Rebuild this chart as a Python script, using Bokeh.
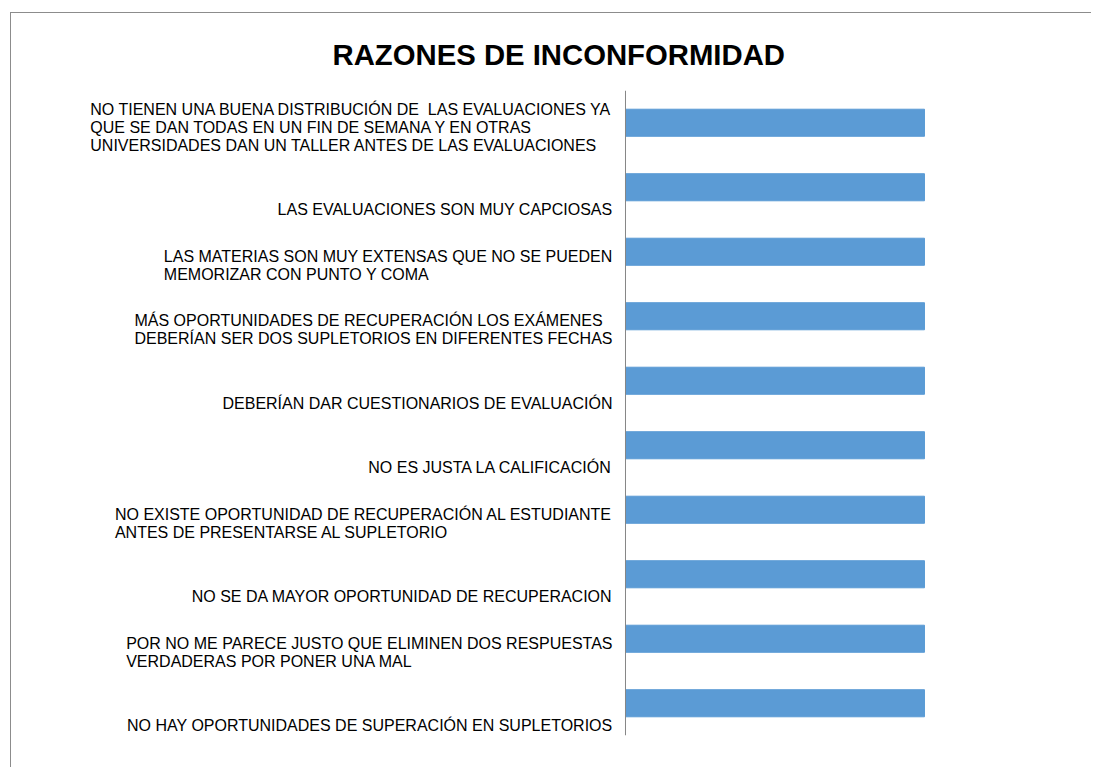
from bokeh.plotting import figure
from bokeh.models import ColumnDataSource, FactorRange, Range1d, Span
from bokeh.core.properties import value
from bokeh.embed import file_html
from bokeh.resources import INLINE

# Data (top to bottom as shown)
reasons = [
    "NO TIENEN UNA BUENA DISTRIBUCIÓN DE\u00a0 LAS EVALUACIONES YA\nQUE SE DAN TODAS EN UN FIN DE SEMANA Y EN OTRAS\nUNIVERSIDADES DAN UN TALLER ANTES DE LAS EVALUACIONES",
    "LAS EVALUACIONES SON MUY CAPCIOSAS",
    "LAS MATERIAS SON MUY EXTENSAS QUE NO SE PUEDEN\nMEMORIZAR CON PUNTO Y COMA",
    "MÁS OPORTUNIDADES DE RECUPERACIÓN LOS EXÁMENES\nDEBERÍAN SER DOS SUPLETORIOS EN DIFERENTES FECHAS",
    "DEBERÍAN DAR CUESTIONARIOS DE EVALUACIÓN",
    "NO ES JUSTA LA CALIFICACIÓN",
    "NO EXISTE OPORTUNIDAD DE RECUPERACIÓN AL ESTUDIANTE\nANTES DE PRESENTARSE AL SUPLETORIO",
    "NO SE DA MAYOR OPORTUNIDAD DE RECUPERACION",
    "POR NO ME PARECE JUSTO QUE ELIMINEN DOS RESPUESTAS\nVERDADERAS POR PONER UNA MAL",
    "NO HAY OPORTUNIDADES DE SUPERACIÓN EN SUPLETORIOS",
]
counts = [1, 1, 1, 1, 1, 1, 1, 1, 1, 1]
title_text = "RAZONES DE INCONFORMIDAD"

FONT = "Liberation Sans"

source = ColumnDataSource(data=dict(reason=reasons, count=counts,
                                    zero=[0] * len(counts)))

p = figure(
    width=1081, height=755,
    y_range=FactorRange(factors=list(reversed(reasons)), range_padding=0),
    x_range=Range1d(-2.0535, 1.5619),
    output_backend="svg", toolbar_location=None,
    min_border_left=0, min_border_right=0,
    min_border_top=77, min_border_bottom=33,
)
p.styles = {"margin-left": "10px", "margin-top": "12px",
            "border-left": "1px solid #8c8c8c", "border-top": "1px solid #8c8c8c"}

p.hbar(y="reason", right="count", left=0, height=0.42, source=source,
       fill_color="#5B9BD5", line_color="#5B9BD5")

# Category labels placed through the categorical scale
p.text(x="zero", y="reason", text="reason", source=source,
       x_offset=-13, y_offset=31, anchor="bottom_right", text_align="left",
       text_baseline="bottom",
       text_font=value(FONT), text_font_size="16px", text_color="#000000",
       text_line_height=1.06)

# Category axis line at x = 0
p.add_layout(Span(location=0, dimension="height", line_color="#868686",
                  line_width=1))

# Title
p.title.text = title_text
p.title.align = "left"
p.title.offset = 321
p.title.text_font = FONT
p.title.text_font_size = "29.3px"
p.title.text_font_style = "bold"
p.title.text_color = "#000000"
p.title.standoff = 40

p.xaxis.visible = False
p.yaxis.visible = False
p.xgrid.visible = False
p.ygrid.visible = False
p.outline_line_color = None
p.background_fill_color = "white"
p.border_fill_color = "white"

open("out.html", "w").write(file_html(p, INLINE))
